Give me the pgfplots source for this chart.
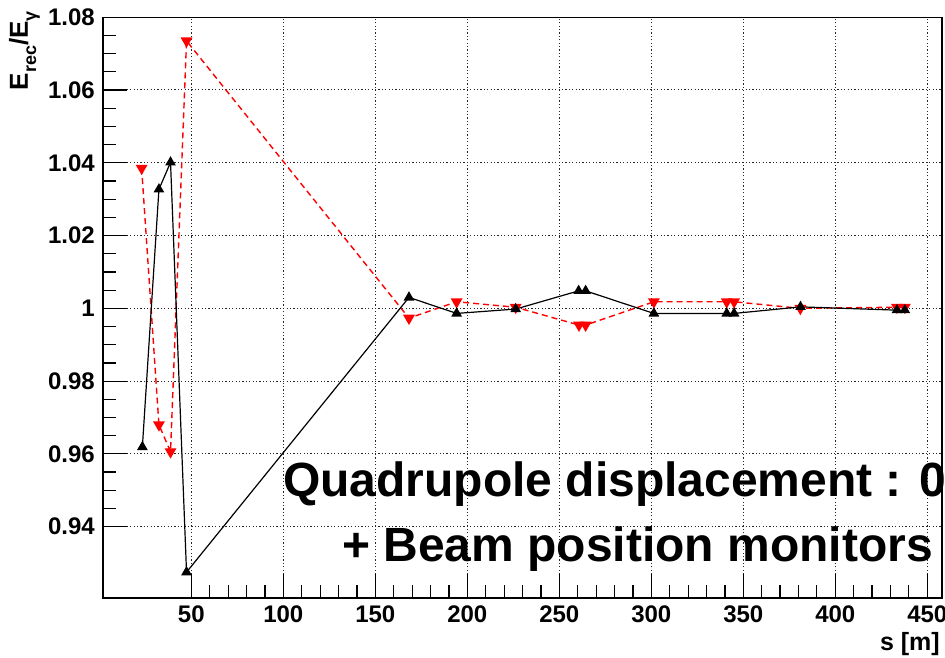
\documentclass[border=0pt]{standalone}
\usepackage{pgfplots}
\pgfplotsset{compat=1.18}
\usepackage{fontspec}
\setmainfont{Liberation Sans}
\begin{document}
\begin{tikzpicture}[x=1pt,y=1pt]
\begin{axis}[
  at={(103pt,59pt)}, anchor=south west,
  scale only axis, width=839pt, height=580.8pt,
  xmin=2, xmax=458, ymin=0.9204, ymax=1.08,
  xtick={50,100,150,200,250,300,350,400,450},
  xticklabels={50,100,150,200,250,300,350,400,450},
  ytick={0.94,0.96,0.98,1,1.02,1.04,1.06,1.08},
  yticklabels={0.94,0.96,0.98,1,1.02,1.04,1.06,1.08},
  minor x tick num=4, minor y tick num=3,
  tick pos=left, tick align=inside,
  major tick length=24pt, minor tick length=13pt,
  grid=major,
  major grid style={black!85, line width=1pt, dash pattern=on 1.2pt off 2.2pt},
  tick style={black, line width=1.2pt},
  axis line style={black, line width=1.2pt},
  ticklabel style={font=\fontsize{24}{26}\selectfont\bfseries},
  yticklabel style={inner sep=0pt, xshift=-8pt},
  xticklabel style={inner sep=0pt, yshift=-8pt},
]
\addplot[red, line width=1.4pt, dash pattern=on 6pt off 4pt, mark=triangle*, mark size=5.5pt,
  mark options={solid, rotate=180, fill=red, draw=red}] coordinates {
  (23.0,1.0385) (32.4,0.9680) (38.7,0.9606) (47.4,1.0735)
  (168.3,0.9973) (194.2,1.0018) (226.3,1.0003) (260.7,0.9954) (264.3,0.9954)
  (301.4,1.0018) (341.0,1.0018) (345.0,1.0018) (381.0,1.0000)
  (433.5,1.0003) (437.8,1.0003)
};
\addplot[black, line width=1.2pt, mark=triangle*, mark size=5pt,
  mark options={solid, fill=black, draw=black}] coordinates {
  (23.4,0.9619) (32.4,1.0327) (38.7,1.0401) (47.4,0.9275)
  (168.3,1.0030) (194.2,0.9986) (226.3,0.9998) (260.5,1.0048) (264.3,1.0048)
  (301.4,0.9986) (341.0,0.9986) (345.0,0.9986) (381.1,1.0004)
  (433.5,0.9995) (437.8,0.9995)
};
\end{axis}
\node[anchor=base west, inner sep=0pt, font=\fontsize{48}{52}\selectfont\bfseries] at (283,161) {Quadrupole displacement : 0.};
\node[anchor=base west, inner sep=0pt, font=\fontsize{48}{52}\selectfont\bfseries] at (342,96) {+ Beam position monitors};
\node[anchor=base east, inner sep=0pt, rotate=90, font=\fontsize{26}{28}\selectfont\bfseries] at (28,646)
  {E\raisebox{-8pt}{\fontsize{18}{20}\selectfont rec}/E\raisebox{-8pt}{\fontsize{18}{20}\selectfont γ}};
\node[anchor=base east, inner sep=0pt, font=\fontsize{25}{27}\selectfont\bfseries] at (940,7) {s [m]};
\pgfresetboundingbox
\useasboundingbox (0,0) rectangle (945,657);
\end{tikzpicture}
\end{document}
